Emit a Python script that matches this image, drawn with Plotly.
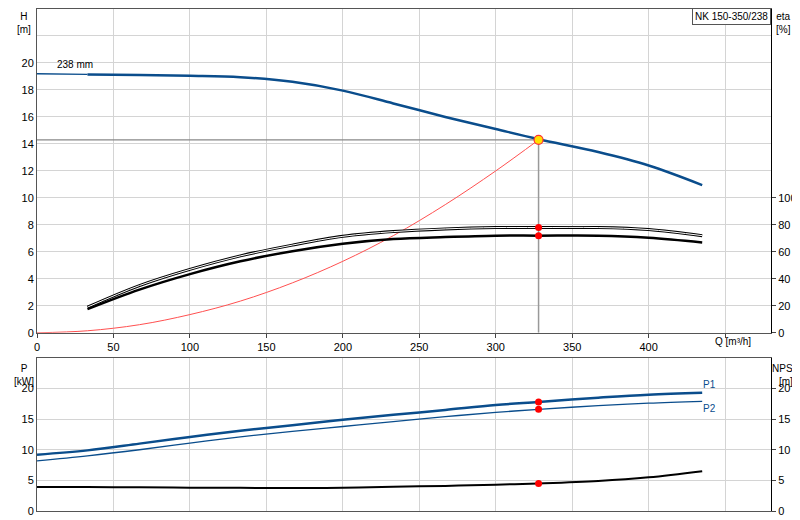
import plotly.graph_objects as go

Q = [0, 33, 67, 100, 133, 167, 200, 233, 267, 300, 328, 367, 400, 435]
H = [19.2, 19.15, 19.1, 19.05, 18.95, 18.6, 17.95, 17.0, 16.0, 15.1, 14.35, 13.4, 12.4, 10.95]
Q_eta = [33, 67, 100, 133, 167, 200, 233, 267, 300, 328, 367, 400, 435]
eta_up = [19, 35, 47, 57, 65, 71.5, 75, 77, 78, 78, 78, 76.5, 72]
eta_lo = [17.5, 32, 43.5, 53, 60.5, 66, 69.5, 71, 72, 72, 72, 70.5, 67]
Q_sys = [0, 33, 67, 100, 133, 167, 200, 233, 267, 300, 328]
H_sys = [0, 0.15, 0.6, 1.35, 2.35, 3.7, 5.3, 7.2, 9.5, 12.0, 14.3]
P1 = [9.2, 9.9, 11, 12.1, 13.1, 14, 14.9, 15.7, 16.5, 17.3, 17.8, 18.5, 19.0, 19.3]
P2 = [8.2, 9.0, 10, 11.1, 12.1, 13, 13.8, 14.6, 15.4, 16.1, 16.6, 17.2, 17.6, 17.9]
NPSH = [3.9, 3.9, 3.88, 3.8, 3.78, 3.75, 3.8, 3.95, 4.1, 4.3, 4.5, 4.9, 5.5, 6.5]
Q_op, H_op, eta_op = 328, 14.3, [78, 72]
P_op, NPSH_op = [17.8, 16.6], 4.5

BLUE = "#0a4d8c"
fig = go.Figure()
# top
fig.add_trace(go.Scatter(x=[0, Q_op], y=[H_op, H_op], mode="lines", line=dict(color="#888", width=1.2), xaxis="x", yaxis="y"))
fig.add_trace(go.Scatter(x=[Q_op, Q_op], y=[0, H_op], mode="lines", line=dict(color="#999", width=1.5), xaxis="x", yaxis="y"))
fig.add_trace(go.Scatter(x=Q_sys, y=H_sys, mode="lines", line=dict(color="#ff5050", width=1, shape="spline"), xaxis="x", yaxis="y"))
fig.add_trace(go.Scatter(x=Q[:2], y=H[:2], mode="lines", line=dict(color=BLUE, width=1.3), xaxis="x", yaxis="y"))
fig.add_trace(go.Scatter(x=Q[1:], y=H[1:], mode="lines", line=dict(color=BLUE, width=2.5, shape="spline"), xaxis="x", yaxis="y"))
fig.add_trace(go.Scatter(x=Q_eta, y=eta_up, mode="lines", line=dict(color="black", width=3, shape="spline"), xaxis="x", yaxis="y2"))
fig.add_trace(go.Scatter(x=Q_eta, y=eta_up, mode="lines", line=dict(color="white", width=1, shape="spline"), xaxis="x", yaxis="y2"))
fig.add_trace(go.Scatter(x=Q_eta, y=eta_lo, mode="lines", line=dict(color="black", width=2.5, shape="spline"), xaxis="x", yaxis="y2"))
fig.add_trace(go.Scatter(x=[Q_op, Q_op], y=eta_op, mode="markers", marker=dict(color="red", size=7), xaxis="x", yaxis="y2"))
fig.add_trace(go.Scatter(x=[Q_op], y=[H_op], mode="markers", marker=dict(color="#ffe000", size=9, line=dict(color="#ff3030", width=1.2)), xaxis="x", yaxis="y"))
# bottom
fig.add_trace(go.Scatter(x=Q, y=P1, mode="lines", line=dict(color=BLUE, width=2.5, shape="spline"), xaxis="x2", yaxis="y3"))
fig.add_trace(go.Scatter(x=Q, y=P2, mode="lines", line=dict(color=BLUE, width=1.3, shape="spline"), xaxis="x2", yaxis="y3"))
fig.add_trace(go.Scatter(x=Q, y=NPSH, mode="lines", line=dict(color="black", width=2, shape="spline"), xaxis="x2", yaxis="y4"))
fig.add_trace(go.Scatter(x=[Q_op, Q_op], y=P_op, mode="markers", marker=dict(color="red", size=7), xaxis="x2", yaxis="y3"))
fig.add_trace(go.Scatter(x=[Q_op], y=[NPSH_op], mode="markers", marker=dict(color="red", size=7), xaxis="x2", yaxis="y4"))

grid = "#d4d4d4"
tf = dict(family="Liberation Sans, Arial", size=11, color="black")
xt = list(range(0, 451, 50))
xtt = [str(v) for v in xt[:-1]] + [""]
common_x = dict(range=[0, 480], tickvals=xt, showgrid=True, gridcolor=grid, zeroline=False, showline=True,
                linecolor="#555", mirror=True, ticks="outside", ticklen=4, tickfont=tf, automargin=False)
fig.update_layout(
    width=800, height=520, showlegend=False, plot_bgcolor="white", paper_bgcolor="white",
    margin=dict(l=29, r=37, t=1, b=17),
    xaxis=dict(common_x, domain=[0, 1], anchor="y", ticktext=xtt),
    xaxis2=dict(common_x, domain=[0, 1], anchor="y3", ticktext=[""] * len(xt), ticks=""),
    yaxis=dict(domain=[0.355, 1], range=[0, 24], tickvals=list(range(0, 23, 2)),
               ticktext=[str(v) for v in range(0, 21, 2)] + [""], showgrid=True, gridcolor=grid,
               zeroline=False, showline=True, linecolor="#555", ticks="", tickfont=tf, automargin=False),
    yaxis2=dict(overlaying="y", side="right", anchor="x", range=[0, 240], tickvals=list(range(0, 101, 20)),
                showgrid=False, zeroline=False, showline=True, linecolor="black", ticks="outside", ticklen=4,
                tickfont=tf, automargin=False),
    yaxis3=dict(domain=[0, 0.305], anchor="x2", range=[0, 25], tickvals=[0, 5, 10, 15, 20, 25],
                ticktext=["0", "5", "10", "15", "20", ""], showgrid=True, gridcolor=grid,
                zeroline=False, showline=True, linecolor="#555", ticks="", tickfont=tf, automargin=False),
    yaxis4=dict(overlaying="y3", side="right", anchor="x2", range=[0, 25], tickvals=[0, 5, 10, 15, 20],
                showgrid=False, zeroline=False, showline=True, linecolor="black", ticks="outside", ticklen=4,
                tickfont=tf, automargin=False),
)
af = dict(family="Liberation Sans, Arial", size=10, color="black")
anns = [
    dict(x=0.0, y=1.0, xref="paper", yref="paper", text="H<br>[m]", xanchor="right", yanchor="top", xshift=-4),
    dict(x=1.0, y=1.0, xref="paper", yref="paper", text="eta<br>[%]", xanchor="left", yanchor="top", xshift=3),
    dict(x=0.0, y=0.305, xref="paper", yref="paper", text="P<br>[kW]", xanchor="right", yanchor="top", xshift=-1, yshift=-3),
    dict(x=1.0, y=0.305, xref="paper", yref="paper", text="NPSH<br>[m]", xanchor="left", yanchor="top", xshift=-1, yshift=-3),
    dict(x=455, y=0, xref="x", yref="y", text="Q [m³/h]", xanchor="center", yanchor="top", yshift=-1),
    dict(x=12, y=19.3, xref="x", yref="y", text="238 mm", xanchor="left", yanchor="bottom"),
    dict(x=440, y=19.4, xref="x2", yref="y3", text="P1", xanchor="center", yanchor="bottom", font=dict(af, color=BLUE)),
    dict(x=440, y=17.9, xref="x2", yref="y3", text="P2", xanchor="center", yanchor="top", font=dict(af, color=BLUE)),
    dict(x=1.0, y=1.0, xref="paper", yref="paper", text="NK 150-350/238", xanchor="right", yanchor="top",
         bordercolor="#555", borderwidth=1, bgcolor="white", borderpad=2, yshift=1),
]
for a in anns:
    a.setdefault("font", af)
    a["showarrow"] = False
    fig.add_annotation(**a)
fig.write_html("out.html")
